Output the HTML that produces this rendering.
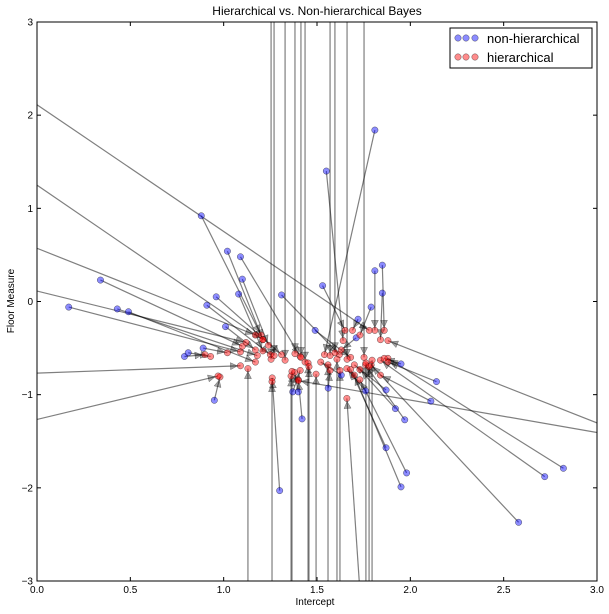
<!DOCTYPE html>
<html><head><meta charset="utf-8"><style>
html,body{margin:0;padding:0;background:#fff;overflow:hidden;width:609px;height:614px;}
svg{display:block;}
svg text{font-family:"Liberation Sans",sans-serif;}
</style></head><body>
<svg id="chart" width="609" height="614" xmlns="http://www.w3.org/2000/svg">
<defs><clipPath id="clip"><rect x="37" y="22" width="560" height="559"/></clipPath></defs>
<rect width="609" height="614" fill="#fff"/>
<text x="317" y="15" text-anchor="middle" font-size="12">Hierarchical vs. Non-hierarchical Bayes</text>
<g id="marks" clip-path="url(#clip)"></g>
<rect x="37" y="22" width="560" height="559" fill="none" stroke="#000" stroke-width="1"/>
<g id="axes"></g>
<text x="315" y="605" text-anchor="middle" font-size="10">Intercept</text>
<text transform="translate(14,301) rotate(-90)" text-anchor="middle" font-size="10">Floor Measure</text>
<g>
<rect x="450" y="28" width="142" height="40" fill="#fff" stroke="#000" stroke-width="1"/>
<circle cx="458" cy="38" r="3.2" fill="rgba(0,0,255,0.45)" stroke="rgba(0,0,0,0.6)" stroke-width="0.5"/>
<circle cx="466" cy="38" r="3.2" fill="rgba(0,0,255,0.45)" stroke="rgba(0,0,0,0.6)" stroke-width="0.5"/>
<circle cx="475" cy="38" r="3.2" fill="rgba(0,0,255,0.45)" stroke="rgba(0,0,0,0.6)" stroke-width="0.5"/>
<text x="487" y="43" font-size="13">non-hierarchical</text>
<circle cx="458" cy="57" r="3.2" fill="rgba(255,0,0,0.45)" stroke="rgba(0,0,0,0.6)" stroke-width="0.5"/>
<circle cx="466" cy="57" r="3.2" fill="rgba(255,0,0,0.45)" stroke="rgba(0,0,0,0.6)" stroke-width="0.5"/>
<circle cx="475" cy="57" r="3.2" fill="rgba(255,0,0,0.45)" stroke="rgba(0,0,0,0.6)" stroke-width="0.5"/>
<text x="487" y="62" font-size="13">hierarchical</text>
</g>
</svg>
<script>
const xTicks=[0.0,0.5,1.0,1.5,2.0,2.5,3.0];
const yTicks=[-3,-2,-1,0,1,2,3];
const bx=[0.17,0.34,0.43,0.49,0.79,0.81,0.89,0.95,0.88,1.02,1.09,1.10,1.08,0.96,0.91,1.01,1.31,1.49,1.55,1.81,1.81,1.85,1.85,1.79,1.72,1.53,1.71,2.58,2.72,2.82,2.14,2.11,1.97,1.92,1.98,1.95,1.87,1.87,1.95,1.30,1.40,1.42,1.37,1.56,1.76,1.63,
 -0.3,-0.3,-0.3,-0.3,-0.3,-0.3,3.3,3.3,1.76,
 1.254,1.270,1.329,1.382,1.414,1.436,1.570,1.596,1.661,1.752,
 1.130,1.259,1.361,1.366,1.452,1.457,1.495,1.559,1.607,1.623,1.762,1.779,1.795];
const by=[-0.06,0.23,-0.08,-0.11,-0.59,-0.55,-0.50,-1.06,0.92,0.54,0.48,0.24,0.08,0.05,-0.04,-0.27,0.07,-0.31,1.40,1.84,0.33,0.39,0.09,-0.06,-0.19,0.17,-0.39,-2.37,-1.88,-1.79,-0.86,-1.07,-1.27,-1.15,-1.84,-1.99,-1.57,-0.95,-0.67,-2.03,-0.97,-1.26,-0.97,-0.93,-0.96,-0.79,
 2.52,1.66,0.81,0.26,-0.79,-1.41,-1.54,-1.51,-4.0,
 5,5,5,5,5,5,5,5,5,5,
 -5,-5,-5,-5,-5,-5,-5,-5,-5,-5,-5,-5,-5];
const rx=[1.09,1.10,1.18,1.17,0.90,0.93,1.02,0.98,1.20,1.21,1.41,1.24,1.21,1.31,1.25,1.17,1.62,1.68,1.64,1.54,1.81,1.86,1.84,1.73,1.69,1.65,1.63,1.79,1.84,1.88,1.88,1.84,1.76,1.73,1.73,1.70,1.68,1.70,1.86,1.26,1.38,1.40,1.41,1.57,1.66,1.52,
 1.78,1.21,1.17,1.12,1.09,0.97,1.88,1.40,1.66,
 1.254,1.270,1.329,1.382,1.414,1.436,1.570,1.596,1.661,1.752,
 1.130,1.259,1.361,1.366,1.452,1.457,1.495,1.559,1.607,1.623,1.762,1.779,1.795];
const ry=[-0.54,-0.48,-0.58,-0.65,-0.57,-0.59,-0.55,-0.81,-0.36,-0.41,-0.59,-0.47,-0.53,-0.57,-0.57,-0.52,-0.57,-0.60,-0.42,-0.57,-0.31,-0.31,-0.41,-0.36,-0.31,-0.31,-0.52,-0.68,-0.63,-0.61,-0.65,-0.79,-0.68,-0.73,-0.84,-0.79,-0.73,-0.68,-0.61,-0.82,-0.76,-0.84,-0.74,-0.74,-0.72,-0.65,
 -0.31,-0.41,-0.36,-0.44,-0.69,-0.80,-0.42,-0.85,-1.04,
 -0.62,-0.58,-0.63,-0.56,-0.60,-0.65,-0.58,-0.55,-0.62,-0.60,
 -0.72,-0.86,-0.80,-0.75,-0.66,-0.70,-0.78,-0.68,-0.62,-0.74,-0.66,-0.70,-0.63];
const NS='http://www.w3.org/2000/svg';
const X=v=>37+v*560/3;
const Y=v=>301.5-v*559/6;
const L0=37,R0=597,T0=22,B0=581;
const marks=document.getElementById('marks');
const axes=document.getElementById('axes');
function mk(tag,attrs,parent){const e=document.createElementNS(NS,tag);for(const k in attrs)e.setAttribute(k,attrs[k]);parent.appendChild(e);return e;}
function clipSeg(x1,y1,x2,y2){
  let t0=0,t1=1;const dx=x2-x1,dy=y2-y1;
  const p=[-dx,dx,-dy,dy],q=[x1-L0,R0-x1,y1-T0,B0-y1];
  for(let k=0;k<4;k++){
    if(p[k]===0){if(q[k]<0)return null;continue;}
    const r=q[k]/p[k];
    if(p[k]<0){if(r>t1)return null;if(r>t0)t0=r;}else{if(r<t0)return null;if(r<t1)t1=r;}
  }
  return [x1+t0*dx,y1+t0*dy,x1+t1*dx,y1+t1*dy];
}
const inside=(x,y)=>x>=L0-4&&x<=R0+4&&y>=T0-4&&y<=B0+4;
for(let i=0;i<bx.length;i++){
  const x1=X(bx[i]),y1=Y(by[i]),x2=X(rx[i]),y2=Y(ry[i]);
  const s=clipSeg(x1,y1,x2,y2);
  if(s){
    const ln=mk('line',{x1:s[0],y1:s[1],x2:s[2],y2:s[3],stroke:'rgba(0,0,0,0.5)','stroke-width':1.2},marks);
    
    
  }
  const dx=x2-x1,dy=y2-y1,L=Math.hypot(dx,dy)||1,ux=dx/L,uy=dy/L;
  if(L>8&&inside(x2,y2)){
    const tx=x2-ux*3,ty=y2-uy*3,bxp=tx-ux*7,byp=ty-uy*7;
    const pts=[[tx,ty],[bxp-uy*3.5,byp+ux*3.5],[bxp+uy*3.5,byp-ux*3.5]].map(p=>p.join(',')).join(' ');
    const hd=mk('polygon',{points:pts,fill:'rgba(0,0,0,0.35)',stroke:'rgba(0,0,0,0.5)','stroke-width':0.5},marks);
    
    
  }
}
for(let i=0;i<bx.length;i++){
  const cx=X(bx[i]),cy=Y(by[i]);
  if(!inside(cx,cy))continue;
  const c=mk('circle',{cx:cx,cy:cy,r:3.2,fill:'rgba(0,0,255,0.45)',stroke:'rgba(0,0,0,0.6)','stroke-width':0.5},marks);
  
  
}
for(let i=0;i<rx.length;i++){
  const cx=X(rx[i]),cy=Y(ry[i]);
  if(!inside(cx,cy))continue;
  const c=mk('circle',{cx:cx,cy:cy,r:3.2,fill:'rgba(255,0,0,0.45)',stroke:'rgba(0,0,0,0.6)','stroke-width':0.5},marks);
  
  
}
xTicks.forEach(t=>{
  const x=X(t);
  mk('line',{x1:x,y1:581,x2:x,y2:577,stroke:'#000'},axes);
  mk('line',{x1:x,y1:22,x2:x,y2:26,stroke:'#000'},axes);
  const tx=mk('text',{x:x,y:593,'text-anchor':'middle','font-size':10},axes);
  tx.textContent=t.toFixed(1);
  
  
});
yTicks.forEach(t=>{
  const y=Y(t);
  mk('line',{x1:37,y1:y,x2:41,y2:y,stroke:'#000'},axes);
  mk('line',{x1:597,y1:y,x2:593,y2:y,stroke:'#000'},axes);
  const tx=mk('text',{x:33,y:y+3.5,'text-anchor':'end','font-size':10},axes);
  tx.textContent=t<0?'\u2212'+Math.abs(t):String(t);
  
  
});
</script>
</body></html>
